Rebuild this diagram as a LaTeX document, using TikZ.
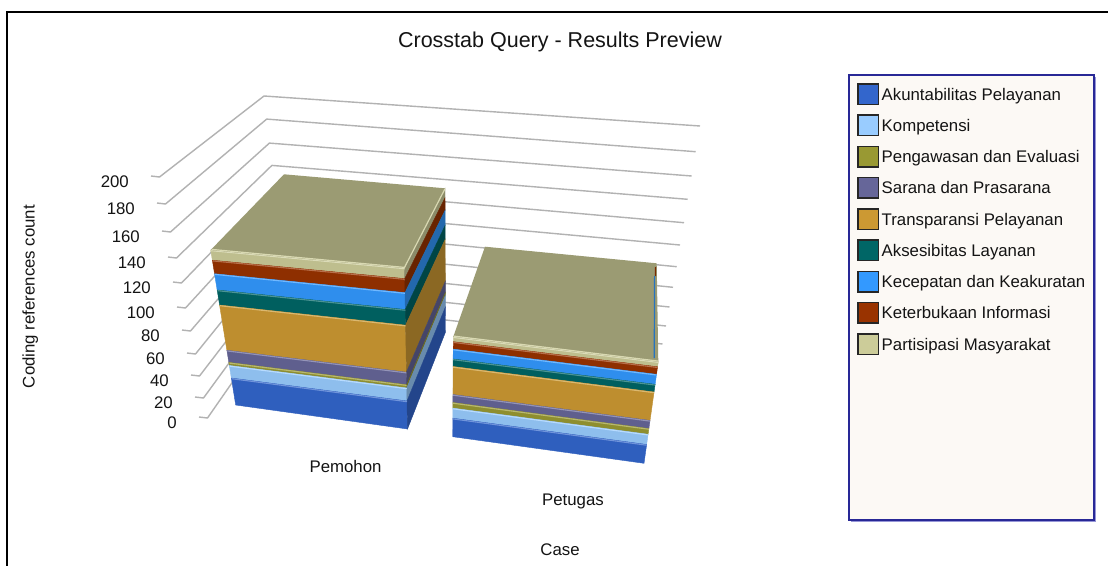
\documentclass[tikz,border=0pt]{standalone}
\usepackage{fontspec}
\setmainfont{Liberation Sans}
\usetikzlibrary{calc}

% series colours
\definecolor{lAku}{RGB}{51,102,204}
\definecolor{lKom}{RGB}{153,204,255}
\definecolor{lPen}{RGB}{153,153,51}
\definecolor{lSar}{RGB}{102,102,153}
\definecolor{lTra}{RGB}{204,153,51}
\definecolor{lAks}{RGB}{0,102,102}
\definecolor{lKec}{RGB}{51,153,255}
\definecolor{lKet}{RGB}{153,51,0}
\definecolor{lPar}{RGB}{204,204,153}
\definecolor{topface}{RGB}{155,155,115}
\definecolor{gridgray}{RGB}{178,178,178}
\definecolor{legborder}{RGB}{40,40,150}
\definecolor{legshadow}{RGB}{150,150,215}
\definecolor{legfill}{RGB}{252,249,245}
\definecolor{txt}{RGB}{20,20,20}

\tikzset{
  gridline/.style={gridgray, line width=1.4pt, line join=round},
  labelfont/.style={font=\fontsize{16.8}{20}\selectfont, text=txt, inner sep=0pt},
  titlefont/.style={font=\fontsize{21.5}{25}\selectfont, text=txt, inner sep=0pt},
  swatch/.style={draw=black!85, line width=1.5pt, minimum size=20.5pt, inner sep=0pt},
  seam/.style={line width=0.4pt},
}

\begin{document}
\begin{tikzpicture}[x=1pt,y=-1pt]
\useasboundingbox (0,0) rectangle (1108,565);
\fill[white] (0,0) rectangle (1108,565);

% outer frame (left and top edges)
\draw[line width=2pt] (6.5,570) -- (6.5,11.5) -- (1112,11.5);

% title
\node[titlefont, anchor=base] (title) at (560,47) {Crosstab Query - Results Preview};

% walls: tick, left-wall diagonal, back-wall line for every grid value
\foreach \v/\tx/\ty/\cx/\cy/\ex/\ey in {
  200/151/176/264/96/700/126,
  180/157/203/266.7/119.1/695.7/151.7,
  160/162/231/269.4/143.1/691.7/176,
  140/168/257/271.9/165.4/687.7/199.3,
  120/173/282/274.4/186.8/684/222.7,
  100/177/307/276.9/208.2/680/245,
  80/182/330/279.2/227.9/676.7/266.7,
  60/187/353/281.4/247.6/673/287.3,
  40/191/375/283.6/266.5/669.5/307,
  20/195/397/285.8/285.3/666/326,
  0/199/417/287.8/302.5/662.5/344}{
  \draw[gridline] (\tx,\ty) -- ++(8.5,1) -- (\cx,\cy) -- (\ex,\ey);
  \node[labelfont, anchor=base east] (yl\v) at (\tx-22,\ty+11) {\v};
}

% ---------- bar: Pemohon ----------
\coordinate (pFLt) at (210.7,250);
\coordinate (pFLb) at (235.7,405);
\coordinate (pFRt) at (404.5,268);
\coordinate (pFRb) at (407.5,429);
\coordinate (pBRt) at (445,188.3);
\coordinate (pBRb) at (445.5,332);
\coordinate (pBLt) at (284,174.3);

\foreach \a/\b/\col in {0/0.066/lPar, 0.066/0.153/lKet, 0.153/0.258/lKec,
  0.258/0.355/lAks, 0.355/0.647/lTra, 0.647/0.725/lSar, 0.725/0.745/lPen,
  0.745/0.826/lKom, 0.826/1/lAku}{
  \filldraw[seam, fill=\col!93!black, draw=\col!93!black]
    ($(pFLt)!\a!(pFLb)$) -- ($(pFRt)!\a!(pFRb)$) -- ($(pFRt)!\b!(pFRb)$) -- ($(pFLt)!\b!(pFLb)$) -- cycle;
  \filldraw[seam, fill=\col!68!black, draw=\col!68!black]
    ($(pFRt)!\a!(pFRb)$) -- ($(pBRt)!\a!(pBRb)$) -- ($(pBRt)!\b!(pBRb)$) -- ($(pFRt)!\b!(pFRb)$) -- cycle;
  \draw[\col!70!white, line width=1.1pt]
    ($(pFLt)!\a!(pFLb)+(0.5,0.7)$) -- ($(pFRt)!\a!(pFRb)+(0,0.7)$);
}
\fill[topface] (pFLt) -- (pFRt) -- (pBRt) -- (pBLt) -- cycle;
\draw[lPar!75!white, line width=1.2pt] ($(pFLt)+(1,-0.6)$) -- ($(pFRt)+(0,-0.6)$) -- ($(pBRt)+(0,0.5)$);

% ---------- bar: Petugas ----------
\coordinate (qFLt) at (453.3,336.7);
\coordinate (qFLb) at (452.7,436.7);
\coordinate (qFRt) at (658.3,361.7);
\coordinate (qFRb) at (644,463.3);
\coordinate (qBRt) at (656.7,263.3);
\coordinate (qBLt) at (485,246.7);

\foreach \a/\b/\col in {0/0.05/lPar, 0.05/0.124/lKet, 0.124/0.223/lKec,
  0.223/0.298/lAks, 0.298/0.578/lTra, 0.578/0.658/lSar, 0.658/0.714/lPen,
  0.714/0.815/lKom, 0.815/1/lAku}{
  \filldraw[seam, fill=\col!93!black, draw=\col!93!black]
    ($(qFLt)!\a!(qFLb)$) -- ($(qFRt)!\a!(qFRb)$) -- ($(qFRt)!\b!(qFRb)$) -- ($(qFLt)!\b!(qFLb)$) -- cycle;
  \draw[\col!70!white, line width=1.1pt]
    ($(qFLt)!\a!(qFLb)+(0,0.7)$) -- ($(qFRt)!\a!(qFRb)+(0,0.7)$);
}
\fill[topface] (qFLt) -- (qFRt) -- (qBRt) -- (qBLt) -- cycle;
\draw[lPar!75!white, line width=1.2pt] ($(qFLt)+(0.5,-0.6)$) -- ($(qFRt)+(0,-0.6)$);
% narrow glimpse of the right-hand side
\draw[lKet!80!black, line width=1.2pt] (655.6,267) -- (655.4,276);
\draw[lKec!75!black, line width=1.2pt] (654.6,276) -- (654.2,358);

% axis and category labels
\node[labelfont, anchor=base, rotate=90] (ylabel) at (34.5,296.5) {Coding references count};
\node[labelfont, anchor=base] (cat1) at (345.5,472) {Pemohon};
\node[labelfont, anchor=base] (cat2) at (573,505) {Petugas};
\node[labelfont, anchor=base] (xlabel) at (560,555) {Case};

% legend
\draw[legshadow, line width=1.2pt] (851,521.5) -- (1095.6,521.5) -- (1095.6,77);
\draw[legborder, line width=1.8pt, fill=legfill] (849.3,75) rectangle (1094.3,520);
\foreach \i/\col/\txt in {0/lAku/Akuntabilitas Pelayanan, 1/lKom/Kompetensi,
  2/lPen/Pengawasan dan Evaluasi, 3/lSar/Sarana dan Prasarana,
  4/lTra/Transparansi Pelayanan, 5/lAks/Aksesibitas Layanan,
  6/lKec/Kecepatan dan Keakuratan, 7/lKet/Keterbukaan Informasi,
  8/lPar/Partisipasi Masyarakat}{
  \node[swatch, fill=\col] (sw\i) at (868.3,94+31.25*\i) {};
  \node[labelfont, anchor=base west] (lt\i) at (881.5,100+31.25*\i) {\txt};
}
\end{tikzpicture}
\end{document}
